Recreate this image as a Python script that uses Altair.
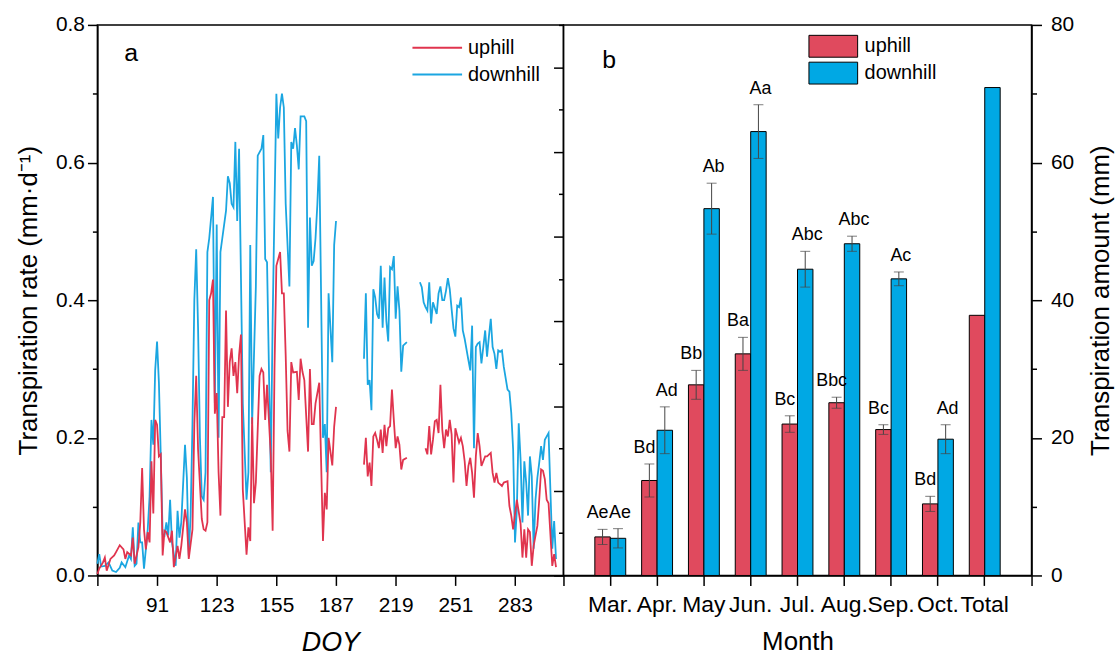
import altair as alt
import pandas as pd

# ---------------- Panel a: daily transpiration rate (mm/d) ----------------
up_seg1 = [(59,0.002),(60,0.010),(62,0.019),(63,0.026),(64,0.007),(66,0.024),(68,0.029),(69,0.034),(71,0.044),(73,0.038),
           (74,0.024),(75,0.034),(77,0.029),(78,0.055),(79,0.017),(81,0.041),(82,0.077),(83,0.156),(84,0.067),(85,0.038),
           (86,0.063),(87,0.048),(88,0.166),(89,0.090),(90,0.226),(91,0.219),(92,0.173),(93,0.176),(94,0.029),(95,0.065),
           (96,0.063),(98,0.048),(99,0.065),(100,0.012),(102,0.043),(103,0.024),(104,0.043),(106,0.096),(107,0.077),(108,0.024),
           (110,0.067),(111,0.221),(112,0.290),(113,0.183),(115,0.082),(116,0.067),(117,0.065),(118,0.077),(119,0.400),(120,0.410),
           (121,0.430),(122,0.235),(123,0.265),(124,0.150),(125,0.087),(126,0.230),(127,0.230),(128,0.385),(129,0.245),(130,0.310),
           (131,0.330),(132,0.290),(133,0.310),(134,0.265),(135,0.320),(136,0.350),(137,0.125),(139,0.030),(140,0.070),(141,0.050),
           (142,0.230),(143,0.105),(144,0.135),(146,0.290),(147,0.300),(148,0.295),(149,0.226),(150,0.277),(152,0.175),(153,0.065),
           (154,0.300),(155,0.450),(157,0.470),(158,0.410),(159,0.410),(160,0.320),(161,0.210),(162,0.180),(163,0.310),(164,0.295),
           (166,0.296),(167,0.255),(168,0.315),(169,0.296),(170,0.284),(172,0.180),(173,0.300),(174,0.220),(175,0.220),(176,0.250),
           (178,0.280),(180,0.050),(181,0.120),(182,0.096),(183,0.200),(185,0.160),(186,0.216),(187,0.245)]
up_seg2 = [(202,0.161),(203,0.200),(204,0.144),(205,0.164),(206,0.130),(207,0.202),(208,0.207),(209,0.197),(210,0.185),(211,0.212),
           (212,0.178),(213,0.219),(214,0.188),(215,0.214),(216,0.217),(217,0.270),(218,0.226),(219,0.185),(220,0.202),(221,0.190),
           (222,0.154),(223,0.168),(225,0.171)]
up_seg3 = [(235,0.185),(236,0.176),(237,0.217),(238,0.176),(239,0.197),(240,0.224),(241,0.226),(242,0.207),(243,0.277),(244,0.212),
           (245,0.185),(246,0.212),(247,0.202),(248,0.226),(249,0.205),(250,0.135),(251,0.214),(253,0.193),(254,0.200),(255,0.188),
           (256,0.166),(257,0.130),(258,0.159),(259,0.171),(260,0.149),(261,0.113),(262,0.173),(263,0.207),(264,0.188),(265,0.159),
           (267,0.173),(268,0.173),(270,0.178),(271,0.149),(272,0.135),(273,0.149),(274,0.135),(276,0.130),(277,0.135),(279,0.137),
           (280,0.101),(281,0.087),(282,0.067),(284,0.110),(286,0.075),(287,0.026),(288,0.067),(289,0.026),(290,0.067),(291,0.063),
           (292,0.014),(293,0.043),(294,0.058),(295,0.072),(296,0.110),(297,0.154),(298,0.152),(299,0.140),(300,0.110),(301,0.105),
           (303,0.014),(304,0.031),(305,0.012)]

down_seg1 = [(59,0.017),(60,0.031),(61,0.013),(63,0.014),(65,0.019),(67,0.007),(69,0.005),(71,0.011),(72,0.019),(74,0.012),
             (76,0.029),(77,0.024),(78,0.070),(79,0.014),(80,0.017),(81,0.077),(82,0.048),(83,0.048),(84,0.010),(86,0.067),
             (87,0.115),(88,0.226),(89,0.190),(90,0.298),(91,0.340),(92,0.280),(93,0.173),(94,0.060),(95,0.058),(96,0.077),
             (97,0.058),(98,0.110),(99,0.048),(101,0.014),(102,0.094),(103,0.055),(104,0.077),(106,0.190),(107,0.142),(108,0.029),
             (109,0.087),(110,0.220),(111,0.400),(112,0.474),(113,0.360),(114,0.200),(115,0.115),(116,0.110),(117,0.150),(118,0.470),
             (119,0.490),(121,0.550),(122,0.250),(123,0.510),(124,0.200),(125,0.470),(126,0.490),(128,0.530),(129,0.580),(130,0.570),
             (131,0.540),(132,0.535),(133,0.630),(134,0.515),(135,0.620),(137,0.250),(139,0.110),(140,0.150),(141,0.480),(142,0.220),
             (144,0.420),(145,0.610),(147,0.620),(148,0.640),(149,0.460),(150,0.455),(152,0.150),(153,0.370),(155,0.700),(156,0.635),
             (157,0.680),(158,0.700),(159,0.680),(160,0.540),(162,0.420),(163,0.630),(164,0.620),(165,0.650),(166,0.625),(167,0.590),
             (168,0.667),(170,0.667),(171,0.660),(172,0.360),(173,0.520),(174,0.450),(175,0.457),(176,0.490),(177,0.540),(178,0.610),
             (180,0.200),(181,0.220),(182,0.150),(183,0.410),(185,0.310),(186,0.480),(187,0.515)]
down_seg2 = [(202,0.315),(203,0.410),(204,0.277),(205,0.284),(206,0.240),(207,0.416),(208,0.404),(209,0.380),(210,0.373),(211,0.450),
             (212,0.360),(213,0.433),(214,0.370),(215,0.340),(216,0.448),(217,0.445),(218,0.464),(219,0.373),(220,0.420),(221,0.385),
             (222,0.296),(223,0.334),(225,0.339)]
down_seg3 = [(232,0.426),(233,0.419),(234,0.397),(235,0.390),(236,0.385),(237,0.426),(238,0.366),(239,0.397),(241,0.380),(242,0.410),
             (243,0.420),(244,0.400),(245,0.400),(246,0.414),(247,0.432),(248,0.416),(249,0.387),(250,0.359),(251,0.347),(252,0.392),
             (253,0.390),(254,0.404),(255,0.356),(256,0.344),(258,0.313),(259,0.298),(260,0.363),(261,0.185),(262,0.332),(263,0.337),
             (264,0.339),(265,0.308),(266,0.332),(267,0.356),(268,0.318),(269,0.347),(270,0.373),(271,0.332),(272,0.322),(273,0.300),
             (274,0.327),(275,0.325),(276,0.327),(277,0.303),(279,0.270),(280,0.267),(281,0.236),(282,0.183),(283,0.048),(284,0.096),
             (285,0.221),(286,0.168),(287,0.077),(288,0.166),(289,0.135),(290,0.087),(291,0.173),(292,0.144),(293,0.039),(294,0.110),
             (295,0.142),(296,0.164),(297,0.188),(298,0.168),(299,0.197),(300,0.202),(301,0.207),(303,0.039),(304,0.079),(305,0.024)]

doy_ticks = [59, 91, 123, 155, 187, 219, 251, 283, 309]
rate_ticks = [0.0, 0.1, 0.2, 0.3, 0.4, 0.5, 0.6, 0.7, 0.8]

# ---------------- Panel b: monthly transpiration amount (mm) ----------------
months = ["Mar.", "Apr.", "May", "Jun.", "Jul.", "Aug.", "Sep.", "Oct.", "Total"]
up_amount = [5.6, 13.8, 27.7, 32.2, 22.0, 25.1, 21.2, 10.4, 37.8]
up_err = [1.1, 2.4, 2.1, 2.4, 1.2, 0.8, 0.7, 1.1, None]
up_sig = ["Ae", "Bd", "Bb", "Ba", "Bc", "Bbc", "Bc", "Bd", ""]
down_amount = [5.4, 21.1, 53.3, 64.5, 44.5, 48.2, 43.1, 19.8, 70.9]
down_err = [1.4, 3.4, 3.7, 3.9, 2.6, 1.1, 1.0, 2.1, None]
down_sig = ["Ae", "Ad", "Ab", "Aa", "Abc", "Abc", "Ac", "Ad", ""]
amount_ticks = [0, 10, 20, 30, 40, 50, 60, 70, 80]
divider_ticks = [i * 0.5 for i in range(14)]

sites = ["uphill", "downhill"]
LINE_COLORS = ["#E0344E", "#1BA6E1"]
BAR_COLORS = ["#E04A5E", "#00A8E4"]
FONT = "Liberation Sans"
TICK_FS = 21
TITLE_FS = 26

# ---------------- build tables ----------------
rows = []
for site, segs in (("downhill", [down_seg1, down_seg2, down_seg3]), ("uphill", [up_seg1, up_seg2, up_seg3])):
    for k, seg in enumerate(segs):
        for d, v in seg:
            rows.append({"doy": d, "rate": v, "site": site, "seg": f"{site}{k}"})
df_a = pd.DataFrame(rows)

df_b = pd.DataFrame({
    "month": months * 2,
    "site": ["uphill"] * len(months) + ["downhill"] * len(months),
    "amount": up_amount + down_amount,
    "err": up_err + down_err,
    "sig": up_sig + down_sig,
})

# ---------------- panel a ----------------
panel_a = alt.Chart(df_a).mark_line(strokeWidth=1.8).encode(
    x=alt.X("doy:Q",
            scale=alt.Scale(domain=[59, 309], nice=False, zero=False),
            axis=alt.Axis(values=doy_ticks,
                          labelExpr="(datum.value == 59 || datum.value == 309) ? '' : datum.label",
                          title="DOY", titleFontStyle="italic", titleFontSize=27,
                          tickSize=10, labelPadding=9, titlePadding=15)),
    y=alt.Y("rate:Q",
            scale=alt.Scale(domain=[0, 0.8], nice=False),
            axis=alt.Axis(values=rate_ticks,
                          labelExpr="round(datum.value*10) % 2 == 0 ? format(datum.value, '.1f') : ''",
                          tickSize={"condition": {"test": "round(datum.value*10) % 2 == 0", "value": 10}, "value": 5},
                          title="Transpiration rate (mm·d⁻¹)", labelPadding=3, titlePadding=14)),
    color=alt.Color("site:N",
                    scale=alt.Scale(domain=sites, range=LINE_COLORS),
                    legend=alt.Legend(orient="none", legendX=330, legendY=11, title=None,
                                      symbolType="M-2.27,0L2.27,0", symbolSize=484, symbolStrokeWidth=2,
                                      labelFontSize=20, labelOffset=19, rowPadding=5, padding=0)),
    detail="seg:N",
).properties(
    width=469, height=554,
    title=alt.TitleParams("a", anchor="start", frame="group", orient="top", fontSize=25,
                          fontWeight="normal", baseline="alphabetic", offset=0, dx=27, dy=72),
)

# ---------------- panel b ----------------
xb = alt.X("month:N", sort=months,
           scale=alt.Scale(paddingInner=0.34, paddingOuter=0.67),
           axis=alt.Axis(title="Month", labelAngle=0, labelOverlap=False, tickSize=10, labelFontSize=23,
                         labelPadding=8, titlePadding=13))
xo = alt.XOffset("site:N", sort=sites, scale=alt.Scale(domain=sites, paddingInner=0, paddingOuter=0))
yscale_b = alt.Scale(domain=[0, 80], nice=False)

bars = alt.Chart(df_b).mark_bar(stroke="black", strokeWidth=1).encode(
    x=xb, xOffset=xo,
    y=alt.Y("amount:Q", scale=yscale_b,
            axis=alt.Axis(orient="right", values=amount_ticks,
                          labelExpr="datum.value % 20 == 0 ? datum.label : ''",
                          tickSize={"condition": {"test": "datum.value % 20 == 0", "value": 10}, "value": 5},
                          title="Transpiration amount (mm)", titleAngle=270, titleBaseline="top",
                          labelPadding=9, titlePadding=14)),
    color=alt.Color("site:N", scale=alt.Scale(domain=sites, range=BAR_COLORS),
                    legend=alt.Legend(orient="none", legendX=260, legendY=10, title=None,
                                      symbolType="M-2.227,-1L2.227,-1L2.227,1L-2.227,1Z", symbolSize=484,
                                      symbolStrokeColor="black", symbolStrokeWidth=1, symbolOpacity=1,
                                      labelFontSize=20, labelOffset=20, rowPadding=0, padding=0)),
)

errbase = alt.Chart(df_b).transform_filter("isValid(datum.err)").transform_calculate(
    lo="datum.amount - datum.err", hi="datum.amount + datum.err")

err_rule = errbase.mark_rule(color="#444444", strokeWidth=1).encode(
    x=xb, xOffset=xo, y=alt.Y("lo:Q", scale=yscale_b), y2="hi:Q")
cap_hi = errbase.mark_tick(orient="horizontal", size=10, thickness=1, color="#444444").encode(
    x=xb, xOffset=xo, y=alt.Y("hi:Q", scale=yscale_b))
cap_lo = errbase.mark_tick(orient="horizontal", size=10, thickness=1, color="#444444").encode(
    x=xb, xOffset=xo, y=alt.Y("lo:Q", scale=yscale_b))
letters_up = errbase.transform_filter("datum.site == 'uphill'").mark_text(
    baseline="bottom", dy=-7, dx=-5, fontSize=18, color="black").encode(
    x=xb, xOffset=xo, y=alt.Y("hi:Q", scale=yscale_b), text="sig:N")
letters_down = errbase.transform_filter("datum.site == 'downhill'").mark_text(
    baseline="bottom", dy=-7, dx=2, fontSize=18, color="black").encode(
    x=xb, xOffset=xo, y=alt.Y("hi:Q", scale=yscale_b), text="sig:N")

inner_b = alt.layer(bars, err_rule, cap_lo, cap_hi, letters_up, letters_down)

hidden = alt.Chart(df_b).mark_point(opacity=0).encode(
    x=alt.X(datum=1, type="quantitative", scale=alt.Scale(domain=[0, 1], nice=False),
            axis=alt.Axis(orient="bottom", values=[1], labels=False, domain=False, tickSize=10, title=None)),
    y=alt.Y(datum=0, type="quantitative", scale=alt.Scale(domain=[0, 6.5], nice=False),
            axis=alt.Axis(orient="left", values=divider_ticks, labels=False, domain=False, title=None,
                          tickSize={"condition": {"test": "datum.value % 1 == 0", "value": 10}, "value": 5})),
)

panel_b = alt.layer(inner_b, hidden).resolve_scale(x="independent", y="independent").properties(
    width=471, height=554,
    title=alt.TitleParams("b", anchor="start", frame="group", orient="top", fontSize=25,
                          fontWeight="normal", baseline="alphabetic", offset=0, dx=39, dy=79),
)

chart = alt.hconcat(panel_a, panel_b, spacing=0, bounds="flush").resolve_scale(
    color="independent").resolve_legend(color="independent").properties(
    padding={"left": 15, "top": 11, "right": 3, "bottom": 0}
).configure(font=FONT, background="white").configure_view(
    stroke="black", strokeWidth=1.5
).configure_axis(
    grid=False, domainColor="black", domainWidth=1.5, tickColor="black", tickWidth=1.5,
    labelFontSize=TICK_FS, titleFontSize=TITLE_FS, labelColor="black", titleColor="black",
    titleFontWeight="normal", labelFont=FONT, titleFont=FONT,
).configure_legend(labelColor="black", labelFont=FONT).configure_title(color="black", font=FONT)

chart.save("out.html", embed_options={"renderer": "svg", "actions": False})
